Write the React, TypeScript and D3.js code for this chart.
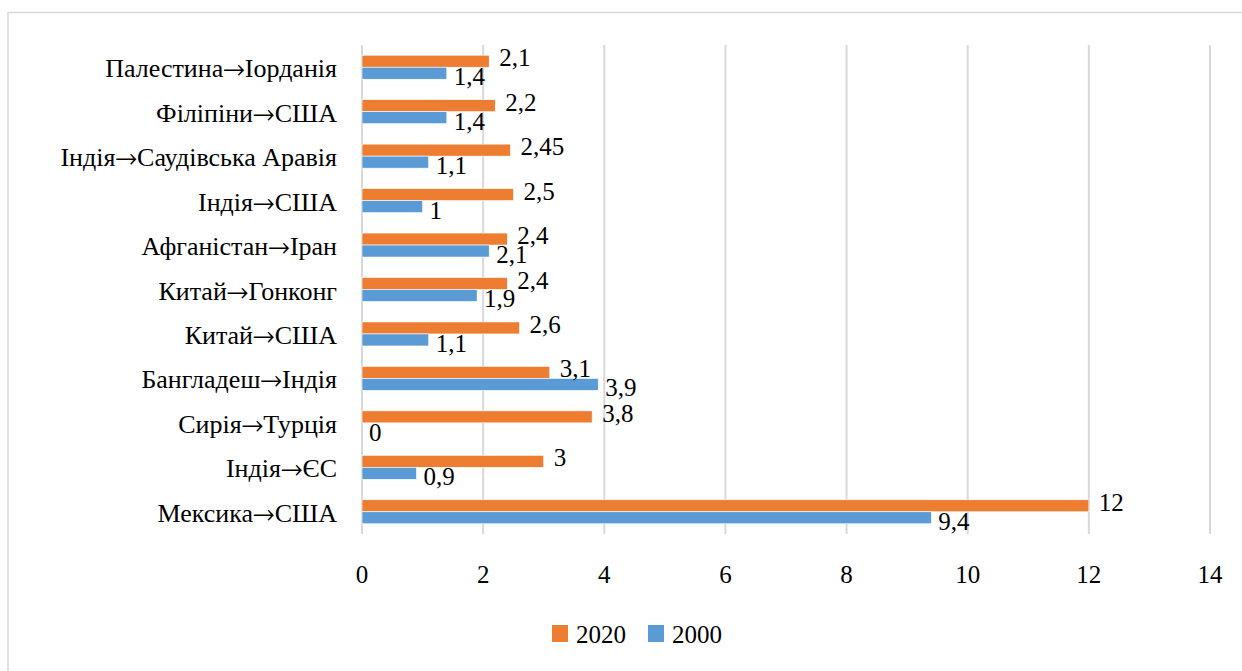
import React from 'react';
import * as d3 from 'd3';

const categories = [
  'Палестина→Іорданія',
  'Філіпіни→США',
  'Індія→Саудівська Аравія',
  'Індія→США',
  'Афганістан→Іран',
  'Китай→Гонконг',
  'Китай→США',
  'Бангладеш→Індія',
  'Сирія→Турція',
  'Індія→ЄС',
  'Мексика→США',
];
const values2020 = [2.1, 2.2, 2.45, 2.5, 2.4, 2.4, 2.6, 3.1, 3.8, 3, 12];
const values2000 = [1.4, 1.4, 1.1, 1, 2.1, 1.9, 1.1, 3.9, 0, 0.9, 9.4];
const seriesNames = ['2020', '2000'];
const seriesColors = ['#ED7D31', '#5B9BD5'];
const xTicks = [0, 2, 4, 6, 8, 10, 12, 14];

const W = 1242;
const H = 671;

const txt = { fontFamily: "'Liberation Serif'", fontSize: 25 };
const catTxt = { fontFamily: "'Liberation Serif'", fontSize: 26 };
const arrowTxt = { fontFamily: "'FreeSerif'", fontSize: 27 };

const x = d3.scaleLinear().domain([0, 14]).range([362, 1210]);
const y = d3.scaleBand()
  .domain(categories)
  .range([45, 534])
  .paddingInner(0.46)
  .paddingOuter(0.23);
const sub = d3.scaleBand().domain(seriesNames).range([0, y.bandwidth()]);

const fmt = (v: number) => String(v).replace('.', ',');

const App = () => {
  const rows = categories.map((c, i) => ({ cat: c, vals: [values2020[i], values2000[i]] }));
  const legendX = [552, 648];

  return (
    <svg width={W} height={H} style={{ position: 'absolute', left: 0, top: 0, background: '#fff' }}>
      {/* frame */}
      <rect x={8} y={12.5} width={W} height={H} fill="#fff" stroke="#d9d9d9" strokeWidth={1.5} />

      {/* gridlines */}
      {xTicks.map(t => (
        <line key={t} x1={x(t)} x2={x(t)} y1={45} y2={534} stroke="#d9d9d9" strokeWidth={2} />
      ))}

      {rows.map(r => (
        <g key={r.cat} transform={`translate(0,${y(r.cat)})`}>
          {r.vals.map((v, k) => (
            <rect
              key={k}
              x={x(0)}
              y={sub(seriesNames[k])}
              width={x(v) - x(0)}
              height={sub.bandwidth()}
              fill={seriesColors[k]}
              stroke={v > 0 ? '#fff' : 'none'}
              strokeWidth={0.6}
            />
          ))}
          {r.vals.map((v, k) => (
            <text
              key={'t' + k}
              x={x(v) + (k === 0 ? 10 : 7)}
              y={sub(seriesNames[k])! + sub.bandwidth() / 2 + (k === 0 ? 5 : 12)}
              fill="#000"
              style={txt}
            >
              {fmt(v)}
            </text>
          ))}
        </g>
      ))}

      {/* category labels */}
      {categories.map(c => {
        const [a, b] = c.split('→');
        return (
          <text
            key={c}
            x={337}
            y={y(c)! + y.bandwidth() / 2 + 10}
            textAnchor="end"
            fill="#000"
            style={catTxt}
          >
            <tspan style={catTxt}>{a}</tspan>
            <tspan style={arrowTxt}>→</tspan>
            <tspan style={catTxt}>{b}</tspan>
          </text>
        );
      })}

      {/* x tick labels */}
      {xTicks.map(t => (
        <text key={'x' + t} x={x(t)} y={583} textAnchor="middle" fill="#000" style={txt}>
          {t}
        </text>
      ))}

      {/* legend */}
      {seriesNames.map((s, i) => (
        <g key={s} transform={`translate(${legendX[i]},625)`}>
          <rect width={16} height={17} fill={seriesColors[i]} />
          <text x={24} y={18} fill="#000" style={txt}>{s}</text>
        </g>
      ))}
    </svg>
  );
};

export default App;
